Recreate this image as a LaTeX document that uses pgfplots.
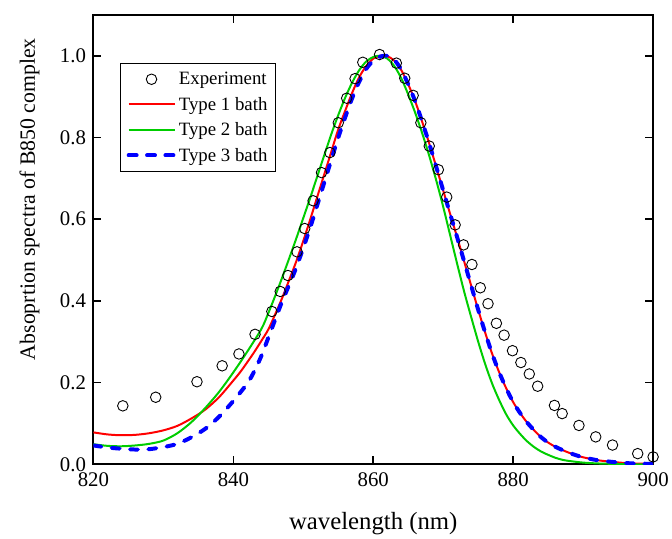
\documentclass[border=0pt]{standalone}
\usepackage{pgfplots}
\pgfplotsset{compat=1.18}
\usepackage{fontspec}
\setmainfont{Liberation Serif}
\definecolor{cgreen}{RGB}{0,205,0}
\begin{document}
\begin{tikzpicture}
\begin{axis}[
  scale only axis, width=563bp, height=452bp,
  xmin=820, xmax=900, ymin=0, ymax=1.1,
  xtick={820,840,860,880,900},
  ytick={0,0.2,0.4,0.6,0.8,1.0},
  yticklabel style={/pgf/number format/fixed,/pgf/number format/fixed zerofill,/pgf/number format/precision=1, xshift=-4bp},
  xticklabel style={yshift=-5bp},
  /pgf/number format/assume math mode=true,
  tick label style={font=\fontsize{21}{25}\selectfont},
  tick align=inside, major tick length=8bp,
  every tick/.style={black, line width=1.6bp},
  axis line style={line width=2bp},
  minor tick num=0,
  xlabel={wavelength (nm)},
  ylabel={Absoprtion spectra of B850 complex},
  xlabel style={font=\fontsize{25}{29}\selectfont, at={(axis description cs:0.5,-0.145)}, anchor=base},
  ylabel style={font=\fontsize{22}{26}\selectfont, at={(axis description cs:-0.114,0.59)}, anchor=center},
  legend cell align=left,
  legend style={at={(axis description cs:0.048,0.892)}, anchor=north west, draw=black, line width=0.8bp,
    font=\fontsize{19}{21}\selectfont, row sep=6bp, inner sep=6bp,
    nodes={inner sep=2.5bp}},
  legend image code/.code={\draw[mark repeat=2,mark phase=2] plot coordinates {(0bp,0bp) (23bp,0bp) (46bp,0bp)};},
]
\addplot[only marks, mark=o, mark size=5.3bp, black, mark options={line width=0.9bp}] coordinates {
(824.2,0.143) (828.9,0.164) (834.8,0.202) (838.4,0.241) (840.8,0.270) (843.1,0.318)
(845.5,0.374) (846.7,0.423) (847.8,0.462) (849.1,0.520) (850.2,0.577) (851.4,0.645)
(852.6,0.714) (853.8,0.763) (855.0,0.836) (856.2,0.896) (857.4,0.944) (858.5,0.984)
(860.9,1.003) (863.3,0.982) (864.5,0.945) (865.7,0.903) (866.8,0.836) (868.0,0.779)
(869.3,0.721) (870.5,0.654) (871.7,0.586) (872.9,0.537) (874.1,0.489) (875.3,0.432)
(876.4,0.393) (877.6,0.345) (878.7,0.316) (879.9,0.278) (881.1,0.249) (882.3,0.221)
(883.5,0.191) (885.9,0.144) (887.0,0.124) (889.4,0.095) (891.8,0.067) (894.2,0.047)
(897.8,0.026) (900.0,0.018)
};
\addlegendentry{Experiment}
\addplot[red, line width=2bp, smooth] coordinates {
(820,0.078) (822,0.073) (824,0.071) (826,0.072) (828,0.076) (830,0.083) (832,0.094)
(834,0.112) (836,0.134) (838,0.165) (840,0.205) (841,0.226) (842,0.250) (843,0.275)
(844,0.302) (845,0.330) (846,0.368) (847,0.408) (848,0.452) (849,0.497) (850,0.547)
(851,0.600) (852,0.655) (853,0.710) (854,0.765) (855,0.820) (856,0.866) (857,0.910)
(858,0.948) (859,0.975) (860,0.993) (861,1.000) (862,0.999) (863,0.988) (864,0.965)
(865,0.930) (866,0.888) (867,0.838) (868,0.785) (869,0.728) (870,0.670) (871,0.612)
(872,0.555) (873,0.496) (874,0.437) (875,0.378) (876,0.322) (877,0.270) (878,0.225)
(879,0.186) (880,0.152) (881,0.125) (882,0.102) (883,0.083) (884,0.066) (885,0.053)
(886,0.043) (887,0.035) (888,0.028) (889,0.022) (890,0.017) (892,0.010) (894,0.006)
(896,0.003) (898,0.0015) (900,0.001)
};
\addlegendentry{Type 1 bath}
\addplot[cgreen, line width=2bp, smooth] coordinates {
(820,0.049) (822,0.045) (824,0.044) (826,0.046) (828,0.050) (830,0.058) (832,0.076)
(834,0.103) (836,0.138) (838,0.178) (840,0.225) (842,0.276) (844,0.331) (845,0.370)
(846,0.413) (847,0.458) (848,0.505) (849,0.553) (850,0.603) (851,0.653) (852,0.705)
(853,0.757) (854,0.808) (855,0.855) (856,0.898) (857,0.935) (858,0.965) (859,0.986)
(860,0.997) (861,1.000) (862,0.993) (863,0.975) (864,0.945) (865,0.905) (866,0.860)
(867,0.810) (868,0.755) (869,0.695) (870,0.630) (871,0.560) (872,0.490) (873,0.422)
(874,0.360) (875,0.300) (876,0.245) (877,0.197) (878,0.157) (879,0.122) (880,0.095)
(881,0.074) (882,0.056) (883,0.042) (884,0.031) (885,0.023) (886,0.016) (887,0.011)
(888,0.008) (890,0.004) (892,0.002) (894,0.001) (897,0.0) (900,0.0)
};
\addlegendentry{Type 2 bath}
\addplot[blue, line width=4bp, line cap=round, dash pattern=on 8bp off 10.5bp, smooth] coordinates {
(820,0.046) (822,0.041) (824,0.038) (826,0.036) (828,0.037) (830,0.042) (832,0.050)
(834,0.066) (836,0.087) (838,0.117) (840,0.155) (842,0.198) (843,0.228) (844,0.265)
(845,0.310) (846,0.355) (847,0.400) (848,0.440) (849,0.482) (850,0.530) (851,0.580)
(852,0.635) (853,0.690) (854,0.745) (855,0.800) (856,0.850) (857,0.897) (858,0.937)
(859,0.968) (860,0.988) (861,0.998) (862,1.000) (863,0.990) (864,0.966) (865,0.930)
(866,0.888) (867,0.838) (868,0.785) (869,0.728) (870,0.670) (871,0.612)
(872,0.555) (873,0.496) (874,0.437) (875,0.378) (876,0.322) (877,0.270) (878,0.225)
(879,0.186) (880,0.152) (881,0.125) (882,0.102) (883,0.083) (884,0.066) (885,0.053)
(886,0.043) (887,0.035) (888,0.028) (889,0.022) (890,0.017) (892,0.010) (894,0.006)
(896,0.003) (898,0.0015) (900,0.001)
};
\addlegendentry{Type 3 bath}
\end{axis}
\path[use as bounding box] ([xshift=-94bp,yshift=-71bp]current axis.south west) rectangle ([xshift=15bp,yshift=15bp]current axis.north east);
\end{tikzpicture}
\end{document}
